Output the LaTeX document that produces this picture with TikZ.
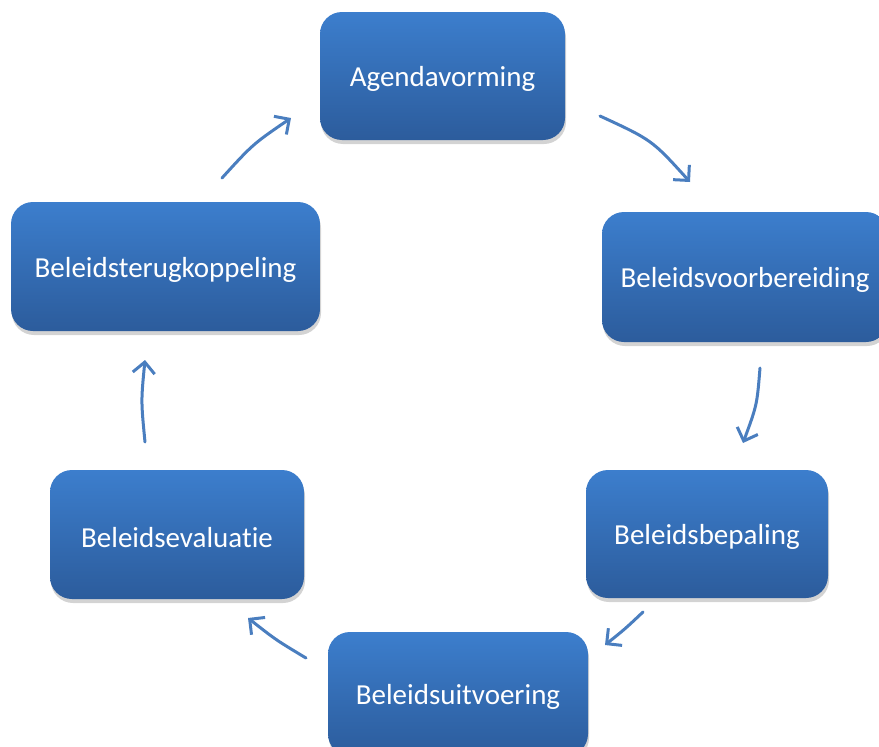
\documentclass[tikz,border=0pt]{standalone}
\usepackage{fontspec}
\setmainfont{Carlito}[Ligatures={NoCommon}]
\usetikzlibrary{shadows,arrows.meta}
\definecolor{boxtop}{HTML}{3C7ECD}
\definecolor{boxbot}{HTML}{2C5C9C}
\definecolor{arrowc}{HTML}{4A7EBF}
\newcommand{\boxtxt}[1]{\raisebox{-3pt}[\height][\depth]{#1}}
\tikzset{
  stagebox/.style={rounded corners=22pt, top color=boxtop, bottom color=boxbot,
    draw=none, text=white, font=\fontsize{29}{34}\selectfont, inner sep=0pt,
    drop shadow={opacity=0.35, shadow xshift=1pt, shadow yshift=-4pt}},
  cyclearrow/.style={draw=arrowc, line width=3pt, line cap=round,
    -{Straight Barb[length=11pt,width=22pt,line width=3pt]}}
}
\begin{document}
\begin{tikzpicture}[x=1pt,y=-1pt]
\useasboundingbox (0,0) rectangle (879,747);
\clip (0,0) rectangle (879,747);
\node[stagebox, minimum width=245pt, minimum height=128pt] (agenda) at (442.5,76) {\boxtxt{Agendavorming}};
\node[stagebox, minimum width=286pt, minimum height=130pt] (voorb) at (745,277) {\boxtxt{Beleidsvoorbereiding}};
\node[stagebox, minimum width=242pt, minimum height=128pt] (bepal) at (707,534) {\boxtxt{Beleidsbepaling}};
\node[stagebox, minimum width=260pt, minimum height=124pt] (uitv) at (458,694) {\boxtxt{Beleidsuitvoering}};
\node[stagebox, minimum width=254pt, minimum height=129pt] (evalu) at (177,534.5) {\boxtxt{Beleidsevaluatie}};
\node[stagebox, minimum width=309pt, minimum height=129pt] (terug) at (165.5,266.5) {\boxtxt{Beleidsterugkoppeling}};

\coordinate (a1) at (600,116); \coordinate (a2) at (690,182);
\coordinate (b1) at (760,368); \coordinate (b2) at (743,443);
\coordinate (c1) at (643,612); \coordinate (c2) at (605,645);
\coordinate (d1) at (306,658); \coordinate (d2) at (248,618);
\coordinate (e1) at (145,442); \coordinate (e2) at (145,360);
\coordinate (f1) at (222,178); \coordinate (f2) at (291,118);

\draw[cyclearrow] (a1) .. controls (652,140) .. (a2);
\draw[cyclearrow] (b1) .. controls (757,405) .. (b2);
\draw[cyclearrow] (c1) .. controls (625,629) .. (c2);
\draw[cyclearrow] (d1) .. controls (276,640) .. (d2);
\draw[cyclearrow] (e1) .. controls (141,401) .. (e2);
\draw[cyclearrow] (f1) .. controls (253,144) .. (f2);
\end{tikzpicture}
\end{document}
